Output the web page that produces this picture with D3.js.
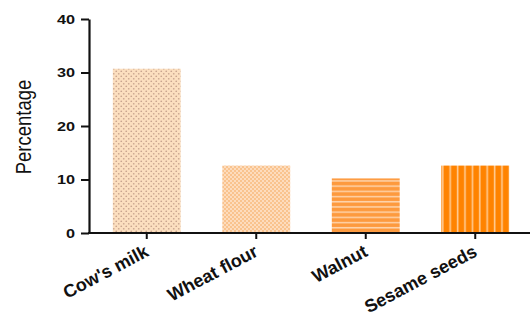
<!DOCTYPE html>
<html>
<head>
<meta charset="utf-8">
<script src="https://cdn.jsdelivr.net/npm/d3@7"></script>
<style>
  html, body { margin: 0; padding: 0; background: #fff; }
  svg { display: block; }
  text { font-family: "Liberation Sans", Arial, Helvetica, sans-serif; fill: #111; }
</style>
</head>
<body>
<svg id="chart" width="530" height="324"></svg>
<script>
// Allergen sensitisation by food
const categories = ["Cow's milk", "Wheat flour", "Walnut", "Sesame seeds"];
const values = [30.7, 12.6, 10.2, 12.6];
const yTicks = [0, 10, 20, 30, 40];
const yTitle = "Percentage";
const fills = ["dots", "checks", "hstripes", "vstripes"];

const W = 530, H = 324;
const margin = { left: 89, right: 0, top: 19, bottom: 91 };
const stretch = 1.3; // tick numerals are drawn wide

const svg = d3.select("#chart");
const defs = svg.append("defs");

// fill patterns
const pDots = defs.append("pattern").attr("id", "dots")
  .attr("patternUnits", "userSpaceOnUse").attr("width", 5).attr("height", 5);
pDots.append("rect").attr("width", 5).attr("height", 5).attr("fill", "#fcdfbf");
pDots.append("circle").attr("cx", 1.25).attr("cy", 1.25).attr("r", 0.85).attr("fill", "#c9a48e");
pDots.append("circle").attr("cx", 3.75).attr("cy", 3.75).attr("r", 0.85).attr("fill", "#c9a48e");

const pChk = defs.append("pattern").attr("id", "checks")
  .attr("patternUnits", "userSpaceOnUse").attr("width", 4).attr("height", 4);
pChk.append("rect").attr("width", 4).attr("height", 4).attr("fill", "#fddcbd");
pChk.append("rect").attr("width", 2).attr("height", 2).attr("fill", "#f9c38e");
pChk.append("rect").attr("x", 2).attr("y", 2).attr("width", 2).attr("height", 2).attr("fill", "#f9c38e");

const pH = defs.append("pattern").attr("id", "hstripes")
  .attr("patternUnits", "userSpaceOnUse").attr("width", 5).attr("height", 5.2);
pH.append("rect").attr("width", 5).attr("height", 5.2).attr("fill", "#fd9a3e");
pH.append("rect").attr("y", 3.4).attr("width", 5).attr("height", 1.5).attr("fill", "#fed3aa");

const pV = defs.append("pattern").attr("id", "vstripes")
  .attr("patternUnits", "userSpaceOnUse").attr("width", 7.4).attr("height", 5);
pV.append("rect").attr("width", 7.4).attr("height", 5).attr("fill", "#ff8300");
pV.append("rect").attr("x", 5.4).attr("width", 1.6).attr("height", 5).attr("fill", "#ffcb94");

const x = d3.scaleBand()
  .domain(categories)
  .range([92, W - margin.right])
  .paddingInner(0.38)
  .paddingOuter(0.19);

const y = d3.scaleLinear()
  .domain([0, 40])
  .range([H - margin.bottom, margin.top]);

// bars
svg.append("g").selectAll("rect")
  .data(categories)
  .join("rect")
  .attr("x", d => x(d))
  .attr("width", x.bandwidth())
  .attr("y", (d, i) => y(values[i]))
  .attr("height", (d, i) => y(0) - y(values[i]))
  .attr("fill", (d, i) => `url(#${fills[i]})`);

// y axis
const yAxis = svg.append("g")
  .attr("transform", `translate(${margin.left},0)`)
  .call(d3.axisLeft(y).tickValues(yTicks).tickSize(8).tickSizeOuter(0).tickPadding(5));
yAxis.select(".domain").attr("stroke", "#111").attr("stroke-width", 2.2);
yAxis.selectAll(".tick line").attr("stroke", "#111").attr("stroke-width", 2);
yAxis.selectAll(".tick text")
  .attr("font-size", 12.5).attr("font-weight", "bold").attr("fill", "#1a1a1a")
  .attr("x", -14 / stretch)
  .attr("transform", `translate(-14,0) scale(${stretch},1) translate(${14 / stretch},0)`);

// x axis
const xAxis = svg.append("g")
  .attr("transform", `translate(0,${y(0)})`)
  .call(d3.axisBottom(x).tickSize(6).tickSizeOuter(0));
xAxis.select(".domain").remove();
xAxis.append("line")
  .attr("x1", margin.left - 1).attr("x2", x.range()[1])
  .attr("stroke", "#111").attr("stroke-width", 2.2);
xAxis.selectAll(".tick line").attr("stroke", "#111").attr("stroke-width", 2);
xAxis.selectAll(".tick text").remove();

// rotated category labels
svg.append("g").selectAll("text")
  .data(categories)
  .join("text")
  .attr("transform", d => `translate(${x(d) + x.bandwidth() / 2 - 3},${y(0) + 11}) rotate(-28)`)
  .attr("text-anchor", "end")
  .attr("dy", "0.71em")
  .attr("font-size", 18)
  .attr("font-weight", "bold")
  .attr("fill", "#1a1a1a")
  .text(d => d);

// y title
svg.append("text")
  .attr("transform", `translate(23,${(y(0) + y(40)) / 2 + 1}) scale(1.2,1) rotate(-90)`)
  .attr("text-anchor", "middle")
  .attr("dy", "0.35em")
  .attr("font-size", 18.5)
  .attr("fill", "#0a0a0a")
  .text(yTitle);
</script>
</body>
</html>
